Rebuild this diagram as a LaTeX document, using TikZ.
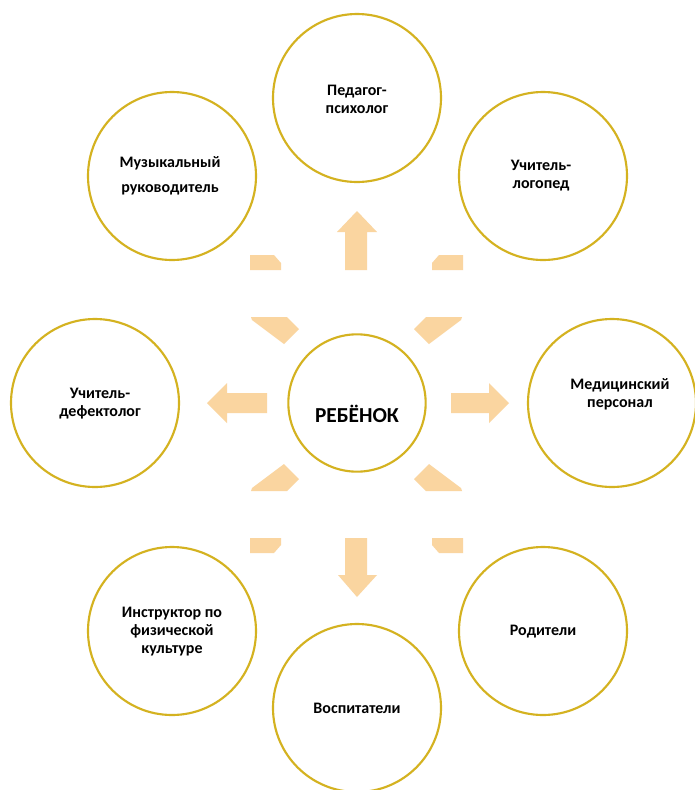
\documentclass[tikz,border=0pt]{standalone}
\usepackage{fontspec}
\setmainfont{Carlito}
\definecolor{ringcol}{RGB}{212,178,32}
\definecolor{arrcol}{RGB}{250,213,160}
\begin{document}
\begin{tikzpicture}[x=0.75pt,y=-0.75pt,
  ring/.style={circle,draw=ringcol,line width=1.6pt,inner sep=0pt,minimum size=126pt},
  hub/.style={circle,draw=ringcol,line width=1.6pt,inner sep=0pt,minimum size=103pt},
  lbl/.style={align=center,inner sep=0pt,font=\fontsize{12}{13.5}\selectfont\bfseries},
  blk/.style={fill=arrcol,draw=none}]
\useasboundingbox (0,0) rectangle (695,790);
\fill[white] (0,0) rectangle (695,790);
% circles
\node[ring] (cpsy) at (357,98) {};
\node[ring] (cmus) at (172,176) {};
\node[ring] (clog) at (543,176) {};
\node[ring] (cdef) at (95,403) {};
\node[hub]  (creb) at (357,403) {};
\node[ring] (cmed) at (612,403) {};
\node[ring] (cins) at (172,631) {};
\node[ring] (crod) at (543,631) {};
\node[ring] (cvos) at (357,708) {};
% texts
\node[lbl] (tpsy) at (357,99) {Педагог-\\психолог};
\node[lbl,font=\fontsize{12}{18.75}\selectfont\bfseries] (tmus) at (170,176) {Музыкальный\\руководитель};
\node[lbl] (tlog) at (541,176) {Учитель-\\логопед};
\node[lbl] (tdef) at (100,404) {Учитель-\\дефектолог};
\node[lbl,font=\fontsize{16}{18}\selectfont\bfseries] (treb) at (357,414) {РЕБЁНОК};
\node[lbl] (tmed) at (620,394) {Медицинский\\персонал};
\node[lbl] (tins) at (172,632) {Инструктор по\\физической\\культуре};
\node[lbl] (trod) at (543,632) {Родители};
\node[lbl] (tvos) at (357,708) {Воспитатели};
% straight block arrows
\fill[blk] (345,270) -- (345,232) -- (337,232) -- (357,211) -- (377,232) -- (367,232) -- (367,270) -- cycle;
\fill[blk] (345,538) -- (345,575) -- (338,575) -- (357,597) -- (377,575) -- (367,575) -- (367,538) -- cycle;
\fill[blk] (267,393) -- (227,393) -- (227,383) -- (207,403) -- (227,423) -- (227,413) -- (267,413) -- cycle;
\fill[blk] (451,393) -- (489,393) -- (489,383) -- (509,403) -- (489,423) -- (489,413) -- (451,413) -- cycle;
% diagonal arrow pieces (cut by white bands)
\fill[blk] (250,255) -- (274,255) -- (281,263) -- (281,270) -- (250,270) -- cycle;
\fill[blk] (463,255) -- (439,255) -- (432,263) -- (432,270) -- (463,270) -- cycle;
\fill[blk] (251,317) -- (287,317) -- (299,329) -- (284,344) -- (252,320) -- cycle;
\fill[blk] (462,317) -- (426,317) -- (414,329) -- (429,344) -- (461,320) -- cycle;
\fill[blk] (251,491) -- (287,491) -- (299,479) -- (284,464) -- (252,488) -- cycle;
\fill[blk] (462,491) -- (426,491) -- (414,479) -- (429,464) -- (461,488) -- cycle;
\fill[blk] (250,553) -- (274,553) -- (281,545) -- (281,538) -- (250,538) -- cycle;
\fill[blk] (463,553) -- (439,553) -- (432,545) -- (432,538) -- (463,538) -- cycle;
\end{tikzpicture}
\end{document}
